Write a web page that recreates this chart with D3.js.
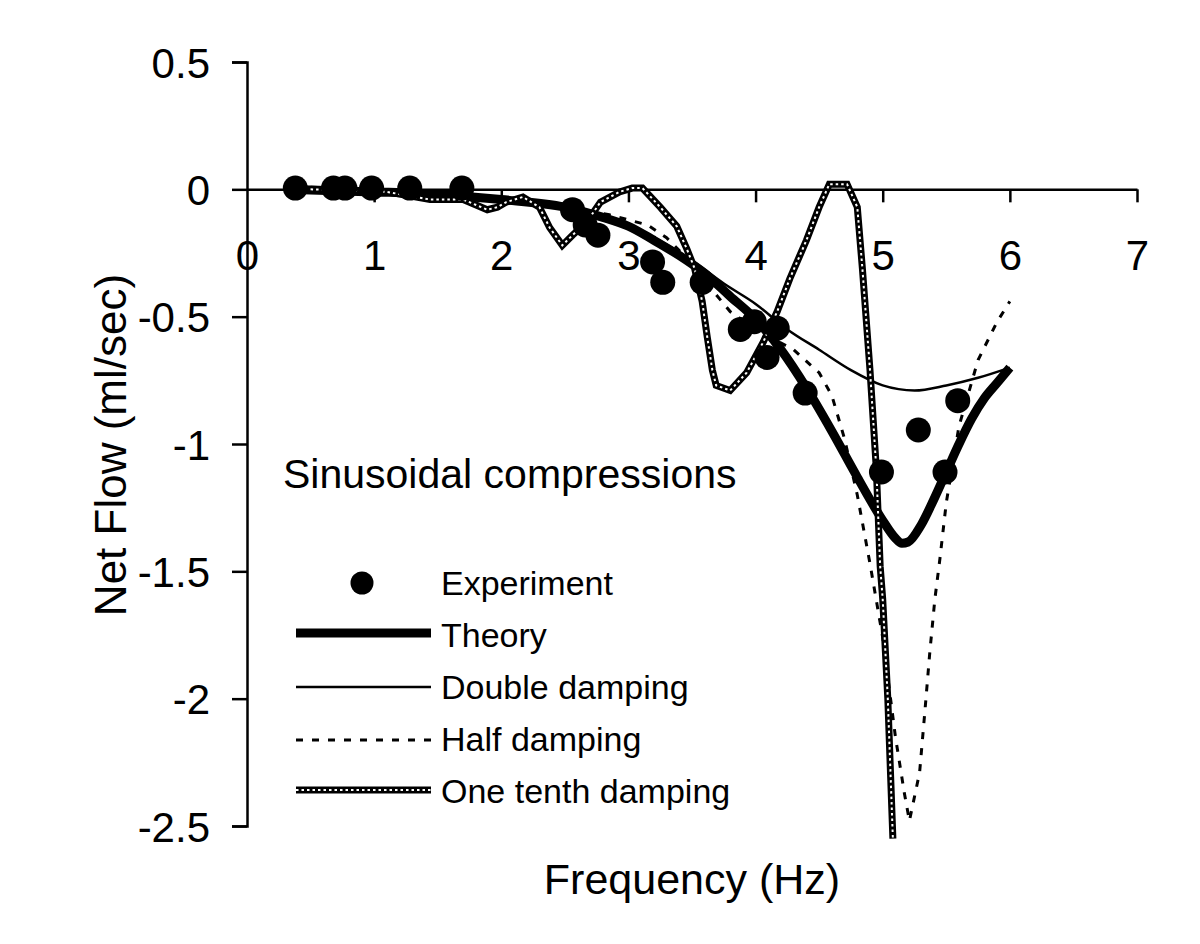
<!DOCTYPE html>
<html>
<head>
<meta charset="utf-8">
<script src="https://cdn.jsdelivr.net/npm/d3@7"></script>
<style>
  html, body { margin: 0; padding: 0; background: #fff; }
  svg { display: block; }
  text { font-family: "Liberation Sans", Arial, sans-serif; fill: #000; }
</style>
</head>
<body>
<div id="chart"></div>
<script>
// ---------- data ----------
const xTicks = [0, 1, 2, 3, 4, 5, 6, 7];
const yTicks = [0.5, 0, -0.5, -1, -1.5, -2, -2.5];
const yTickLabels = ["0.5", "0", "-0.5", "-1", "-1.5", "-2", "-2.5"];

const expX = [0.38, 0.68, 0.77, 0.98, 1.28, 1.69, 2.56, 2.66, 2.76, 3.19, 3.27, 3.58, 3.88, 3.99, 4.17, 4.09, 4.39, 4.99, 5.28, 5.59, 5.49];
const expY = [0.005, 0.005, 0.005, 0.005, 0.005, 0.005, -0.08, -0.14, -0.18, -0.285, -0.365, -0.365, -0.55, -0.52, -0.545, -0.66, -0.80, -1.11, -0.945, -0.83, -1.11];

const theoryX = [0.3, 1.0, 1.5, 2.0, 2.5, 2.8, 3.0, 3.2, 3.4, 3.6, 3.8, 4.0, 4.2, 4.4, 4.6, 4.8, 5.0, 5.1, 5.15, 5.2, 5.3, 5.4, 5.5, 5.6, 5.7, 5.8, 5.9, 6.0];
const theoryY = [0, -0.01, -0.02, -0.04, -0.07, -0.11, -0.145, -0.2, -0.26, -0.33, -0.42, -0.51, -0.63, -0.78, -0.95, -1.13, -1.30, -1.37, -1.39, -1.385, -1.32, -1.22, -1.11, -1.0, -0.9, -0.82, -0.76, -0.70];

const doubleX = [0.3, 1.0, 2.0, 2.5, 3.0, 3.5, 3.75, 4.0, 4.25, 4.5, 4.75, 5.0, 5.25, 5.5, 5.75, 6.0];
const doubleY = [0, -0.01, -0.04, -0.07, -0.14, -0.28, -0.37, -0.45, -0.55, -0.63, -0.71, -0.77, -0.79, -0.77, -0.74, -0.70];

const halfX = [0.3, 1.0, 1.5, 2.0, 2.5, 2.85, 3.0, 3.15, 3.3, 3.4, 3.55, 3.7, 3.8, 4.0, 4.15, 4.3, 4.5, 4.6, 4.7, 4.8, 4.9, 5.0, 5.1, 5.17, 5.21, 5.29, 5.33, 5.37, 5.41, 5.45, 5.5, 5.6, 5.75, 5.9, 6.0];
const halfY = [0, -0.01, -0.02, -0.04, -0.07, -0.10, -0.12, -0.14, -0.19, -0.24, -0.33, -0.42, -0.48, -0.55, -0.59, -0.63, -0.72, -0.81, -0.98, -1.2, -1.47, -1.76, -2.15, -2.37, -2.48, -2.29, -2.06, -1.82, -1.61, -1.45, -1.23, -0.93, -0.67, -0.52, -0.44];

const tenthX = [0.5, 1.10, 1.44, 1.70, 1.89, 1.97, 2.04, 2.17, 2.30, 2.38, 2.48, 2.56, 2.67, 2.78, 2.93, 3.03, 3.11, 3.25, 3.38, 3.46, 3.52, 3.58, 3.62, 3.66, 3.69, 3.80, 3.93, 4.06, 4.17, 4.27, 4.40, 4.50, 4.58, 4.72, 4.80, 4.84, 4.90, 4.95, 4.98, 5.00, 5.04, 5.08];
const tenthY = [0, -0.01, -0.04, -0.04, -0.08, -0.07, -0.05, -0.03, -0.07, -0.15, -0.22, -0.18, -0.13, -0.05, -0.01, 0.005, 0.005, -0.07, -0.145, -0.235, -0.31, -0.44, -0.58, -0.71, -0.77, -0.79, -0.72, -0.60, -0.48, -0.35, -0.20, -0.07, 0.02, 0.02, -0.07, -0.31, -0.71, -1.10, -1.48, -1.61, -2.0, -2.55];

const legendLabels = ["Experiment", "Theory", "Double damping", "Half damping", "One tenth damping"];
const annotation = "Sinusoidal compressions";
const xTitle = "Frequency (Hz)";
const yTitle = "Net Flow (ml/sec)";

// ---------- layout ----------
const W = 1200, H = 944;
const svg = d3.select("#chart").append("svg").attr("width", W).attr("height", H);
svg.append("rect").attr("width", W).attr("height", H).attr("fill", "#fff");

const x = d3.scaleLinear().domain([0, 7]).range([247, 1137]);
const y = d3.scaleLinear().domain([-2.5, 0.5]).range([826, 62]);

// y axis
const yAxis = d3.axisLeft(y).tickValues(yTicks).tickSize(15).tickFormat((d, i) => yTickLabels[i]);
const gy = svg.append("g").attr("transform", `translate(${x(0)},0)`).call(yAxis);
gy.select(".domain").attr("stroke", "#000").attr("stroke-width", 2.5);
gy.selectAll(".tick line").attr("stroke", "#000").attr("stroke-width", 2.5);
gy.selectAll(".tick text").attr("x", -37).attr("dy", null).attr("y", 15)
  .style("font-size", "42px").style("font-family", "'Liberation Sans', Arial, sans-serif");

// x axis at y = 0
const xAxis = d3.axisBottom(x).tickValues(xTicks).tickSize(13).tickSizeOuter(0).tickFormat(d3.format("d"));
const gx = svg.append("g").attr("transform", `translate(0,${y(0)})`).call(xAxis);
gx.select(".domain").attr("stroke", "#000").attr("stroke-width", 2.5);
gx.selectAll(".tick line").attr("stroke", "#000").attr("stroke-width", 2.5);
gx.selectAll(".tick").filter(d => d === 0).select("line").remove();
gx.selectAll(".tick text").attr("dy", null).attr("y", 81)
  .style("font-size", "42px").style("font-family", "'Liberation Sans', Arial, sans-serif");

// ---------- lines ----------
const zip = (xs, ys) => xs.map((v, i) => [v, ys[i]]);
const smooth = d3.line().x(d => x(d[0])).y(d => y(d[1])).curve(d3.curveMonotoneX);
const straight = d3.line().x(d => x(d[0])).y(d => y(d[1]));

svg.append("path").attr("d", smooth(zip(theoryX, theoryY)))
  .attr("fill", "none").attr("stroke", "#000").attr("stroke-width", 9).attr("stroke-linejoin", "round");
svg.append("path").attr("d", smooth(zip(doubleX, doubleY)))
  .attr("fill", "none").attr("stroke", "#000").attr("stroke-width", 2.5);
svg.append("path").attr("d", straight(zip(halfX, halfY)))
  .attr("fill", "none").attr("stroke", "#000").attr("stroke-width", 3).attr("stroke-dasharray", "7,9");
const tenthD = straight(zip(tenthX, tenthY));
svg.append("path").attr("d", tenthD)
  .attr("fill", "none").attr("stroke", "#000").attr("stroke-width", 7);
svg.append("path").attr("d", tenthD)
  .attr("fill", "none").attr("stroke", "#fff").attr("stroke-width", 2).attr("stroke-dasharray", "2.5,3");

// experiment dots
svg.append("g").selectAll("circle").data(zip(expX, expY)).join("circle")
  .attr("cx", d => x(d[0])).attr("cy", d => y(d[1])).attr("r", 12.5).attr("fill", "#000");

// ---------- annotation & titles ----------
svg.append("text").attr("x", 283).attr("y", 488).style("font-size", "41px").text(annotation);
svg.append("text").attr("x", 692).attr("y", 894).attr("text-anchor", "middle").style("font-size", "43px").text(xTitle);
svg.append("text").attr("transform", "translate(126,445) rotate(-90)").attr("text-anchor", "middle")
  .style("font-size", "44px").text(yTitle);

// ---------- legend ----------
const legBase = [595, 647, 699, 751, 803];
const lx0 = 296, lx1 = 431, ltx = 441;
const lg = svg.append("g");
legendLabels.forEach((lab, i) => {
  lg.append("text").attr("x", ltx).attr("y", legBase[i]).style("font-size", "34px").text(lab);
});
lg.append("circle").attr("cx", 362).attr("cy", legBase[0] - 12).attr("r", 11.5).attr("fill", "#000");
lg.append("line").attr("x1", lx0).attr("x2", lx1).attr("y1", legBase[1] - 14).attr("y2", legBase[1] - 14)
  .attr("stroke", "#000").attr("stroke-width", 9);
lg.append("line").attr("x1", lx0).attr("x2", lx1).attr("y1", legBase[2] - 12).attr("y2", legBase[2] - 12)
  .attr("stroke", "#000").attr("stroke-width", 2.5);
lg.append("line").attr("x1", lx0).attr("x2", lx1).attr("y1", legBase[3] - 11).attr("y2", legBase[3] - 11)
  .attr("stroke", "#000").attr("stroke-width", 3).attr("stroke-dasharray", "7,9");
lg.append("line").attr("x1", lx0).attr("x2", lx1).attr("y1", legBase[4] - 13).attr("y2", legBase[4] - 13)
  .attr("stroke", "#000").attr("stroke-width", 7);
lg.append("line").attr("x1", lx0).attr("x2", lx1).attr("y1", legBase[4] - 13).attr("y2", legBase[4] - 13)
  .attr("stroke", "#fff").attr("stroke-width", 2).attr("stroke-dasharray", "2.5,3");
</script>
</body>
</html>
